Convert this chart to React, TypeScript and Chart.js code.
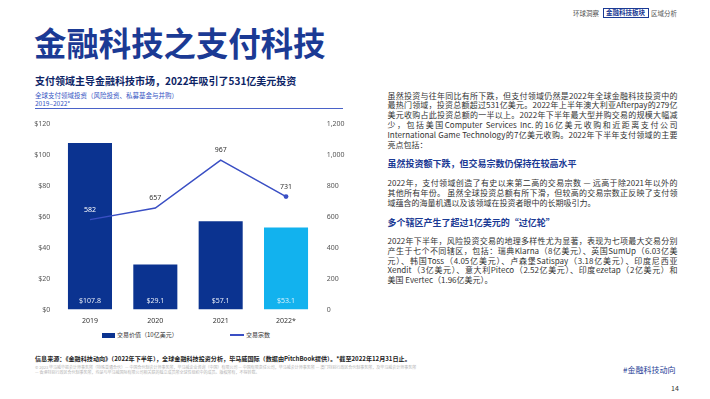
import React, { useEffect, useRef } from "react";
import { Chart, registerables } from "chart.js";

Chart.register(...registerables);

// ---------- chart data ----------
const categories = ["2019", "2020", "2021", "2022*"];
const dealValues = [107.8, 29.1, 57.1, 53.1]; // 交易价值（10亿美元）
const dealCounts = [582, 657, 967, 731]; // 交易宗数
const leftAxis = { min: 0, max: 120, step: 20 };
const rightAxis = { min: 0, max: 1200, step: 200 };
const barColors = ["#0b3390", "#0b3390", "#0b3390", "#12b2ee"];
const barLabelColors = ["#e6ebf6", "#e6ebf6", "#e6ebf6", "#d6f1fc"];
const lineLabelColors = ["#ffffff", "#333333", "#333333", "#333333"];
const pointRadii = [0, 0, 0, 2.4];
const legendLabels = ["交易价值（10亿美元）", "交易宗数"];

const LINE_COLOR = "#3a4fc4";
const NAVY = "#1b3a94";
const FONT_LATIN = '"Noto Sans", "Noto Sans CJK SC", sans-serif';
const FONT_CJK = '"Noto Sans CJK SC", "Noto Sans", sans-serif';

// ---------- page text ----------
const p1 = [
  "虽然投资与往年同比有所下跌，但支付领域仍然是2022年全球金融科技投资中的",
  "最热门领域，投资总额超过531亿美元。2022年上半年澳大利亚Afterpay的279亿",
  "美元收购占此投资总额的一半以上。2022年下半年最大型并购交易的规模大幅减",
  "少，包括美国Computer Services Inc.的16亿美元收购和近距离支付公司",
  "International Game Technology的7亿美元收购。2022年下半年支付领域的主要",
  "亮点包括：",
];
const h1 = "虽然投资额下跌，但交易宗数仍保持在较高水平";
const p2 = [
  "2022年，支付领域创造了有史以来第二高的交易宗数 — 远高于除2021年以外的",
  "其他所有年份。 虽然全球投资总额有所下滑，但较高的交易宗数正反映了支付领",
  "域蕴含的海量机遇以及该领域在投资者眼中的长期吸引力。",
];
const h2 = "多个辖区产生了超过1亿美元的“过亿轮”";
const p3 = [
  "2022年下半年，风险投资交易的地理多样性尤为显著，表现为七项最大交易分别",
  "产生于七个不同辖区，包括：瑞典Klarna（8亿美元）、英国SumUp（6.03亿美",
  "元）、韩国Toss（4.05亿美元）、卢森堡Satispay（3.18亿美元）、印度尼西亚",
  "Xendit（3亿美元）、意大利Piteco（2.52亿美元）、印度ezetap（2亿美元）和",
  "美国 Evertec（1.96亿美元）。",
];
const sourceText =
  "信息来源：《金融科技动向》（2022年下半年），全球金融科技投资分析，毕马威国际（数据由PitchBook提供）。*截至2022年12月31日止。";
const copyright1 =
  "© 2023 毕马威华振会计师事务所（特殊普通合伙）— 中国合伙制会计师事务所，毕马威企业咨询（中国）有限公司 — 中国有限责任公司，毕马威会计师事务所 — 澳门特别行政区合伙制事务所，及毕马威会计师事务所";
const copyright2 =
  "— 香港特别行政区合伙制事务所，均是与毕马威国际有限公司相关联的独立成员所全球性组织中的成员。版权所有，不得转载。";

const valueLabelPlugin = {
  id: "valueLabels",
  afterDatasetsDraw(chart: any) {
    const ctx = chart.ctx;
    ctx.save();
    ctx.font = `7px ${FONT_LATIN}`;
    ctx.textAlign = "center";
    ctx.textBaseline = "middle";
    const barMeta = chart.getDatasetMeta(0);
    barMeta.data.forEach((el: any, i: number) => {
      const { x, base } = el.getProps(["x", "base"], true);
      ctx.fillStyle = barLabelColors[i];
      ctx.fillText("$" + dealValues[i].toFixed(1), x, base - 9);
    });
    const lineMeta = chart.getDatasetMeta(1);
    lineMeta.data.forEach((el: any, i: number) => {
      const { x, y } = el.getProps(["x", "y"], true);
      ctx.fillStyle = lineLabelColors[i];
      ctx.fillText(String(dealCounts[i]), x, y - 10);
    });
    ctx.restore();
  },
};

function Para({ lines, left, top, width, fontSize, lineHeight, color }: any) {
  return (
    <div style={{ position: "absolute", left, top, width }}>
      {lines.map((l: string, i: number) => (
        <div
          key={i}
          style={{
            fontSize,
            lineHeight: lineHeight + "px",
            height: lineHeight,
            color,
            textAlign: "justify",
            textAlignLast: i === lines.length - 1 ? "left" : "justify",
            overflow: "visible",
          }}
        >
          {l}
        </div>
      ))}
    </div>
  );
}

function ChartBox() {
  const ref = useRef<HTMLCanvasElement | null>(null);
  useEffect(() => {
    if (!ref.current) return;
    const chart = new Chart(ref.current, {
      type: "bar",
      data: {
        labels: categories,
        datasets: [
          {
            type: "bar",
            label: legendLabels[0],
            data: dealValues,
            backgroundColor: barColors,
            borderWidth: 0,
            yAxisID: "y",
            barPercentage: 0.674,
            categoryPercentage: 1,
            order: 1,
          },
          {
            type: "line",
            label: legendLabels[1],
            data: dealCounts,
            borderColor: LINE_COLOR,
            backgroundColor: LINE_COLOR,
            borderWidth: 1.5,
            pointRadius: pointRadii,
            pointBorderWidth: 0,
            tension: 0,
            yAxisID: "y1",
            order: 0,
          },
        ],
      } as any,
      options: {
        animation: false,
        responsive: false,
        maintainAspectRatio: false,
        layout: { padding: { top: 12, left: 0, right: 0, bottom: 0 } },
        plugins: { legend: { display: false }, tooltip: { enabled: false } },
        scales: {
          x: {
            grid: { display: false, drawTicks: false },
            border: { display: false },
            ticks: { color: "#333", font: { size: 7, family: FONT_LATIN }, padding: 7 },
            afterFit(s: any) {
              s.height = 18.5;
            },
          },
          y: {
            position: "left",
            min: leftAxis.min,
            max: leftAxis.max,
            grid: { display: false, drawTicks: false },
            border: { display: false },
            ticks: {
              stepSize: leftAxis.step,
              callback: (v: any) => "$" + v,
              color: "#555",
              font: { size: 7, family: FONT_LATIN },
              padding: 7,
            },
            afterFit(s: any) {
              s.width = 37.3;
            },
          },
          y1: {
            position: "right",
            min: rightAxis.min,
            max: rightAxis.max,
            grid: { display: false, drawTicks: false },
            border: { display: false },
            ticks: {
              stepSize: rightAxis.step,
              callback: (v: any) => Number(v).toLocaleString("en-US"),
              color: "#555",
              font: { size: 7, family: FONT_LATIN },
              padding: 8,
            },
            afterFit(s: any) {
              s.width = 41.3;
            },
          },
        },
      } as any,
      plugins: [valueLabelPlugin],
    });
    return () => chart.destroy();
  }, []);
  return (
    <canvas
      ref={ref}
      width={340}
      height={216}
      style={{ position: "absolute", left: 20, top: 112, width: 340, height: 216 }}
    />
  );
}

export default function App() {
  return (
    <div
      style={{
        position: "absolute",
        left: 0,
        top: 0,
        width: 710,
        height: 399,
        background: "#fff",
        overflow: "hidden",
        fontFamily: FONT_CJK,
      }}
    >
      {/* top-right nav */}
      <div style={{ position: "absolute", left: 573, top: 8.5, fontSize: 6.5, lineHeight: "8px", color: "#555" }}>
        环球洞察
      </div>
      <div
        style={{
          position: "absolute",
          left: 602.5,
          top: 8,
          width: 44,
          height: 7.5,
          border: `1px solid ${NAVY}`,
          fontSize: 6.5,
          lineHeight: "7.5px",
          textAlign: "center",
          fontWeight: 700,
          color: NAVY,
        }}
      >
        金融科技板块
      </div>
      <div style={{ position: "absolute", left: 651, top: 8.5, fontSize: 6.5, lineHeight: "8px", color: "#555" }}>
        区域分析
      </div>

      {/* title */}
      <div
        style={{
          position: "absolute",
          left: 34,
          top: 26,
          fontSize: 32.4,
          lineHeight: "32px",
          fontWeight: 700,
          color: NAVY,
          whiteSpace: "nowrap",
        }}
      >
        金融科技之支付科技
      </div>

      {/* chart heading */}
      <div
        style={{
          position: "absolute",
          left: 35,
          top: 74.5,
          fontSize: 10,
          lineHeight: "12px",
          fontWeight: 700,
          color: "#0d2466",
          whiteSpace: "nowrap",
        }}
      >
        支付领域主导金融科技市场，2022年吸引了531亿美元投资
      </div>
      <div
        style={{
          position: "absolute",
          left: 35,
          top: 90.5,
          fontSize: 6.5,
          lineHeight: "8px",
          color: "#3656c4",
          whiteSpace: "nowrap",
        }}
      >
        全球支付领域投资（风险投资、私募基金与并购）
        <br />
        2019–2022*
      </div>
      <div style={{ position: "absolute", left: 35, top: 107.5, width: 308, height: 1, background: "#4a62c8" }} />

      <ChartBox />

      {/* legend */}
      <div style={{ position: "absolute", left: 101.7, top: 332.5, width: 13.3, height: 5, background: barColors[0] }} />
      <div
        style={{ position: "absolute", left: 117, top: 331, fontSize: 6, lineHeight: "8px", color: "#333", whiteSpace: "nowrap" }}
      >
        {legendLabels[0]}
      </div>
      <div style={{ position: "absolute", left: 230, top: 334.3, width: 14.3, height: 1.5, background: LINE_COLOR }} />
      <div
        style={{ position: "absolute", left: 246, top: 331, fontSize: 6, lineHeight: "8px", color: "#333", whiteSpace: "nowrap" }}
      >
        {legendLabels[1]}
      </div>

      {/* right column */}
      <Para lines={p1} left={387.5} top={90.6} width={290} fontSize={8} lineHeight={9.8} color="#333" />
      <div
        style={{ position: "absolute", left: 387.5, top: 158, fontSize: 9, lineHeight: "12px", fontWeight: 700, color: NAVY, whiteSpace: "nowrap" }}
      >
        {h1}
      </div>
      <Para lines={p2} left={387.5} top={178.1} width={290} fontSize={8} lineHeight={9.8} color="#333" />
      <div
        style={{ position: "absolute", left: 387.5, top: 217, fontSize: 9, lineHeight: "12px", fontWeight: 700, color: NAVY, whiteSpace: "nowrap" }}
      >
        {h2}
      </div>
      <Para lines={p3} left={387.5} top={236.1} width={290} fontSize={8} lineHeight={9.8} color="#333" />

      {/* footer */}
      <div
        style={{ position: "absolute", left: 35, top: 354.5, fontSize: 6.1, lineHeight: "8px", color: "#222", fontWeight: 600, whiteSpace: "nowrap" }}
      >
        {sourceText}
      </div>
      <div style={{ position: "absolute", left: 35, top: 365, fontSize: 4, lineHeight: "5px", color: "#b3b3b3", whiteSpace: "nowrap" }}>
        {copyright1}
        <br />
        {copyright2}
      </div>
      <div
        style={{ position: "absolute", left: 623, top: 365, fontSize: 8, lineHeight: "10px", color: NAVY, whiteSpace: "nowrap" }}
      >
        #金融科技动向
      </div>
      <div style={{ position: "absolute", left: 671, top: 384, fontSize: 7, lineHeight: "8px", color: "#333" }}>14</div>
    </div>
  );
}
